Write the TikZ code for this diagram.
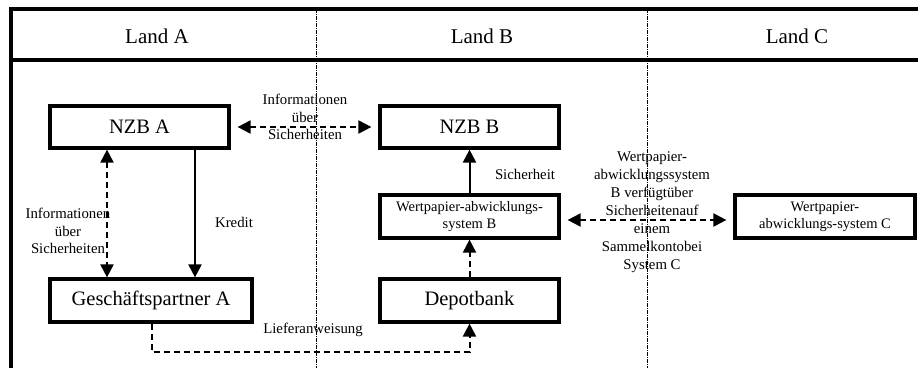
\documentclass[tikz,border=0pt]{standalone}
\usepackage{fontspec}
\setmainfont{Liberation Serif}
\usetikzlibrary{arrows.meta,calc}
\begin{document}
\begin{tikzpicture}[x=1pt,y=-1pt,
  box/.style={draw,line width=3.2pt,inner sep=1pt,align=center},
  bigbox/.style={box,font=\fontsize{20.5}{22}\selectfont},
  smallbox/.style={box,font=\fontsize{14.5}{17}\selectfont},
  lbl/.style={font=\fontsize{14.8}{17.5}\selectfont,align=center,inner sep=0pt},
  head/.style={font=\fontsize{21}{22}\selectfont,inner sep=0pt},
  tip/.style={-{Triangle[length=13pt,width=13pt]}},
  dtip/.style={{Triangle[length=13pt,width=13pt]}-{Triangle[length=13pt,width=13pt]}},
  conn/.style={line width=2pt},
  dconn/.style={line width=2pt,dash pattern=on 6pt off 4pt},
  divider/.style={line width=0.7pt,dash pattern=on 4pt off 1pt on 1pt off 1pt}]
\useasboundingbox (0,0) rectangle (918,367);
\clip (0,0) rectangle (918,367);
% frame
\draw[line width=3.2pt] (11,372) -- (11,9) -- (925,9);
\draw[line width=3.2pt] (11,60) -- (925,60);
\draw[divider] (316,9) -- (316,372);
\draw[divider] (647,9) -- (647,372);
% headers
\node[head] (la) at (157,36) {Land A};
\node[head] (lb) at (482,36) {Land B};
\node[head] (lc) at (797,36) {Land C};
% boxes
\node[bigbox,minimum width=179pt,minimum height=42pt] (nzba) at (139.5,127) {NZB A};
\node[bigbox,minimum width=179pt,minimum height=42pt] (nzbb) at (469.5,127) {NZB B};
\node[smallbox,minimum width=179pt,minimum height=43pt] (wpb) at (469.5,216.5) {Wertpapier-abwicklungs-\\system B};
\node[bigbox,minimum width=179pt,minimum height=43pt] (depot) at (469.5,300.5) {Depotbank};
\node[bigbox,minimum width=202pt,minimum height=43pt] (gpa) at (151,300.5) {Geschäftspartner A};
\node[smallbox,minimum width=180pt,minimum height=43pt] (wpc) at (825,216.5) {Wertpapier-\\abwicklungs-system C};
% helper coordinates
\coordinate (xinfo) at (107,0);
\coordinate (xkred) at (195,0);
\coordinate (xlief) at (152,0);
\coordinate (ylief) at (0,352);
% connectors
\draw[dconn,dtip,shorten <=7pt,shorten >=7pt] (nzba.east) -- (nzbb.west);
\draw[dconn,dtip] (nzba.south -| xinfo) -- (gpa.north -| xinfo);
\draw[conn,tip] (nzba.south -| xkred) -- (gpa.north -| xkred);
\draw[conn,tip] (wpb.north) -- (nzbb.south);
\draw[dconn,tip] (depot.north) -- (wpb.south);
\draw[dconn,tip] (gpa.south -| xlief) -- (ylief -| xlief) -- (ylief -| depot.south) -- (depot.south);
\draw[dconn,dtip,shorten <=7pt,shorten >=7pt] ($(wpb.east)+(0,3.5)$) -- ($(wpc.west)+(0,3.5)$);
% labels
\node[lbl] (l1) at (305,117) {Informationen\\über\\Sicherheiten};
\node[lbl] (l2) at (68,231) {Informationen\\über\\Sicherheiten};
\node[lbl] (l3) at (234,222) {Kredit};
\node[lbl] (l4) at (525,174) {Sicherheit};
\node[lbl] (l5) at (313,330) {Lieferanweisung};
\node[lbl,font=\fontsize{14.8}{18}\selectfont] (l6) at (652,212) {Wertpapier-\\abwicklungssystem\\B verfügtüber\\Sicherheitenauf\\einem\\Sammelkontobei\\System C};
\end{tikzpicture}
\end{document}
